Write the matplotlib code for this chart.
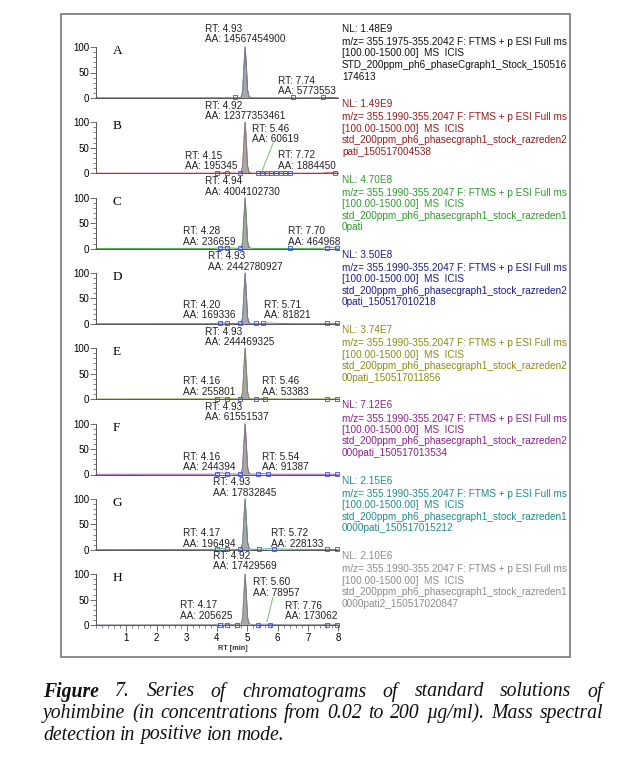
import numpy as np
import matplotlib
matplotlib.use("Agg")
import matplotlib.pyplot as plt
from matplotlib.patches import Rectangle
from matplotlib.ticker import MultipleLocator

W, H = 628, 763

# ---- data ----
panel_names = ["A", "B", "C", "D", "E", "F", "G", "H"]
nl_values = ["1.48E9", "1.49E9", "4.70E8", "3.50E8", "3.74E7", "7.12E6", "2.15E6", "2.10E6"]
mz_ranges = ["355.1975-355.2042"] + ["355.1990-355.2047"] * 7
file_line1 = ["STD_200ppm_ph6_phaseCgraph1_Stock_150516",
              "std_200ppm_ph6_phasecgraph1_stock_razreden2",
              "std_200ppm_ph6_phasecgraph1_stock_razreden1",
              "std_200ppm_ph6_phasecgraph1_stock_razreden2",
              "std_200ppm_ph6_phasecgraph1_stock_razreden2",
              "std_200ppm_ph6_phasecgraph1_stock_razreden2",
              "std_200ppm_ph6_phasecgraph1_stock_razreden1",
              "std_200ppm_ph6_phasecgraph1_stock_razreden1"]
file_line2 = ["174613", "pati_150517004538", "0pati", "0pati_150517010218",
              "00pati_150517011856", "000pati_150517013534",
              "0000pati_150517015212", "0000pati2_150517020847"]

main_rt = [4.93, 4.92, 4.94, 4.93, 4.93, 4.93, 4.93, 4.92]
main_area = ["14567454900", "12377353461", "4004102730", "2442780927",
             "244469325", "61551537", "17832845", "17429569"]

minor_peaks = [
    [(7.74, "5773553")],
    [(5.46, "60619"), (4.15, "195345"), (7.72, "1884450")],
    [(4.28, "236659"), (7.70, "464968")],
    [(4.20, "169336"), (5.71, "81821")],
    [(4.16, "255801"), (5.46, "53383")],
    [(4.16, "244394"), (5.54, "91387")],
    [(4.17, "196494"), (5.72, "228133")],
    [(5.60, "78957"), (4.17, "205625"), (7.76, "173062")],
]

# shared retention time grid (min) and relative abundance (%) per panel
rt_grid = [0.0, 3.9, 4.05, 4.17, 4.3, 4.7, 4.80, 4.85, 4.89, 4.93, 4.97, 5.01,
           5.06, 5.15, 5.35, 5.5, 5.6, 5.72, 6.4, 7.5, 7.62, 7.74, 7.9, 8.0]
int_a = [0.3, 0.3, 0.3, 0.3, 0.3, 0.3, 1.5, 12, 60, 100, 62, 15, 2, 0.4, 0.3, 0.3, 0.3, 0.3, 0.3, 0.4, 0.8, 1.0, 0.6, 0.4]
int_b = [0.3, 0.4, 1.5, 2.2, 1.0, 0.4, 2, 14, 62, 100, 60, 14, 2, 0.5, 0.4, 1.2, 0.9, 0.4, 0.3, 0.5, 1.6, 2.2, 1.0, 0.4]
int_c = [0.3, 0.4, 1.4, 2.0, 1.5, 0.5, 2, 13, 60, 100, 58, 14, 2, 0.5, 0.3, 0.3, 0.3, 0.3, 0.3, 0.6, 2.5, 3.2, 1.2, 0.5]
int_d = [0.3, 0.5, 1.6, 2.2, 1.2, 0.5, 2, 13, 58, 100, 57, 13, 2, 0.6, 0.4, 0.8, 1.2, 1.6, 0.4, 0.4, 0.5, 0.5, 0.4, 0.4]
int_e = [0.3, 0.6, 2.2, 3.0, 1.4, 0.6, 2, 14, 60, 100, 58, 14, 2, 0.6, 0.9, 1.6, 1.0, 0.5, 0.4, 0.4, 0.5, 0.5, 0.4, 0.4]
int_f = [0.3, 0.6, 2.4, 3.2, 1.4, 0.6, 2, 14, 60, 100, 58, 14, 2, 0.7, 1.0, 1.8, 1.4, 0.6, 0.4, 0.4, 0.5, 0.5, 0.4, 0.4]
int_g = [0.4, 0.8, 2.0, 2.6, 1.2, 0.6, 2, 14, 60, 100, 58, 15, 3, 0.8, 0.7, 1.2, 1.8, 2.2, 1.0, 0.6, 0.5, 0.5, 0.5, 0.5]
int_h = [0.4, 0.8, 2.2, 2.8, 1.3, 0.6, 2, 14, 60, 100, 58, 15, 3, 0.9, 0.8, 1.4, 1.9, 1.2, 0.6, 0.8, 1.5, 2.0, 1.0, 0.6]
intensities = [int_a, int_b, int_c, int_d, int_e, int_f, int_g, int_h]

# integration start/end markers on the baseline
marks = [
    [4.6, 6.5, 7.5],
    [4.0, 4.33, 4.76, 5.36, 5.5, 5.65, 5.8, 5.95, 6.1, 6.25, 6.4, 7.9],
    [4.1, 4.33, 4.76, 6.4, 7.64, 7.97],
    [4.1, 4.33, 4.76, 5.3, 5.52, 7.64, 7.97],
    [4.0, 4.33, 4.76, 5.3, 5.6, 7.64, 7.97],
    [4.0, 4.33, 4.76, 5.35, 5.7, 7.64, 7.97],
    [4.0, 4.33, 4.76, 5.4, 5.9, 7.64, 7.97],
    [4.1, 4.33, 4.66, 5.36, 5.75, 7.64, 7.97],
]

# ---- layout / style ----
text_colors = ["#111111", "#9b1b1b", "#2d9a2d", "#1c1c8a", "#8c8c14", "#8b1f8b", "#1f8c8c", "#8c8c8c"]
trace_colors = ["#4a5fe0", "#d46a6a", "#4aaa4a", "#6070dc", "#8aa040", "#a060b0", "#40a0a0", "#9090a0"]
main_label_pos = [(3.60, 125), (3.60, 122.5), (3.60, 121.6), (3.70, 122.5),
                  (3.60, 122.5), (3.60, 122.5), (3.87, 122.5), (3.87, 125.5)]
minor_label_pos = [
    [(6.02, 23.5)],
    [(5.16, 77.5), (2.94, 24.5), (6.02, 25)],
    [(2.88, 23.5), (6.35, 23.5)],
    [(2.88, 27.5), (5.55, 27.5)],
    [(2.88, 25), (5.49, 25)],
    [(2.88, 24.5), (5.49, 24.5)],
    [(2.88, 22.5), (5.80, 22.5)],
    [(5.19, 73.5), (2.78, 29), (6.25, 27.5)],
]
leaders = {1: [(5.50, 6), (5.85, 59)], 7: [(5.65, 6), (5.85, 55)]}

sans = "Liberation Sans"
serif = "Liberation Serif"

fig = plt.figure(figsize=(W / 100, H / 100), dpi=100)
fig.patch.set_facecolor("white")


def fx(px):
    return px / W


def fy(py):
    return 1 - py / H


fig.patches.append(Rectangle((fx(61), fy(657)), fx(570) - fx(61), fy(14) - fy(657),
                             transform=fig.transFigure, fill=False,
                             edgecolor="#8a8a8a", lw=1.4))

rt = np.array(rt_grid)
for i in range(8):
    y0 = 98 + i * 75.3
    ax = fig.add_axes([fx(96), fy(y0), 242 / W, 51 / H])
    ax.set_xlim(0, 8)
    ax.set_ylim(0, 100)
    ax.patch.set_alpha(0)
    for s in ["top", "right"]:
        ax.spines[s].set_visible(False)
    for s in ["left", "bottom"]:
        ax.spines[s].set_color("#555555")
        ax.spines[s].set_linewidth(0.7)

    y = np.array(intensities[i])
    peak = (rt >= 4.78) & (rt <= 5.10)
    ax.fill_between(rt, 0, y, where=peak, color="#a8a8a8", lw=0, zorder=2)
    ax.plot(rt[peak], y[peak], color="#808080", lw=0.7, zorder=3)
    ax.plot(rt, y, color=trace_colors[i], lw=0.7, zorder=2.5, clip_on=False)
    ax.plot(marks[i], np.zeros(len(marks[i])) + 1, "s", mfc="none", mec="#3a4ee6",
            ms=3.4, mew=0.6, clip_on=False, zorder=4)

    if i in leaders:
        (xa, ya), (xb, yb) = leaders[i]
        ax.plot([xa, xb], [ya, yb], color="#6cc46c", lw=0.7, clip_on=False)

    ax.set_yticks([0, 50, 100])
    ax.yaxis.set_minor_locator(MultipleLocator(10))
    ax.tick_params(axis="y", which="major", length=4, width=0.6, labelsize=7,
                   pad=1, color="#555555")
    ax.tick_params(axis="y", which="minor", length=2.5, width=0.5, color="#555555")
    for lab in ax.get_yticklabels():
        lab.set_fontfamily(sans)

    if i == 7:
        ax.set_xticks(range(1, 9))
        ax.xaxis.set_minor_locator(MultipleLocator(0.2))
        ax.tick_params(axis="x", which="major", length=4, width=0.6, labelsize=7,
                       pad=2, color="#555555")
        ax.tick_params(axis="x", which="minor", length=2.5, width=0.5, color="#555555")
        for lab in ax.get_xticklabels():
            lab.set_fontfamily(sans)
    else:
        ax.set_xticks([])

    ax.text(0.55, 92, panel_names[i], family=serif, fontsize=9.5, va="center",
            ha="left")

    lx, ly = main_label_pos[i]
    ax.text(lx, ly, "RT: %.2f\nAA: %s" % (main_rt[i], main_area[i]), family=sans,
            fontsize=7.2, linespacing=1.05, va="center", ha="left",
            color="#222222", clip_on=False)
    for (prt, parea), (mx, my) in zip(minor_peaks[i], minor_label_pos[i]):
        ax.text(mx, my, "RT: %.2f\nAA: %s" % (prt, parea), family=sans,
                fontsize=7.2, linespacing=1.05, va="center", ha="left",
                color="#222222", clip_on=False)

    # header block on the right
    lines = ["NL: " + nl_values[i],
             "m/z= %s F: FTMS + p ESI Full ms" % mz_ranges[i],
             "[100.00-1500.00]  MS  ICIS",
             file_line1[i], file_line2[i]]
    offsets = [69, 56, 44.5, 33, 21.5]
    for txt, off in zip(lines, offsets):
        fig.text(fx(342), fy(y0 - off), txt, family=sans, fontsize=7.2,
                 color=text_colors[i], va="center", ha="left")

fig.text(fx(233), fy(648), "RT [min]", family=sans, fontsize=5.2,
         fontweight="bold", color="#333333", ha="center", va="center")

# ---- caption (justified) ----
renderer = fig.canvas.get_renderer()
cap_size = 14.2


def put_line(words, py, justify):
    items = []
    for w, bold in words:
        t = fig.text(0, fy(py), w, family=serif, style="italic", fontsize=cap_size,
                     fontweight="bold" if bold else "normal", va="center",
                     ha="left", color="#111111")
        items.append(t)
    widths = [t.get_window_extent(renderer).width for t in items]
    left, right = 43, 603
    if justify and len(items) > 1:
        gap = (right - left - sum(widths)) / (len(items) - 1)
    else:
        gap = 4.8
    x = left
    for t, w in zip(items, widths):
        t.set_x(fx(x))
        x += w + gap


line1 = [("Figure", True), ("7.", False), ("Series", False), ("of", False),
         ("chromatograms", False), ("of", False), ("standard", False),
         ("solutions", False), ("of", False)]
line2 = [(w, False) for w in "yohimbine (in concentrations from 0.02 to 200 \u00b5g/ml). Mass spectral".split()]
line3 = [(w, False) for w in "detection in positive ion mode.".split()]
put_line(line1, 692, True)
put_line(line2, 713.5, True)
put_line(line3, 735, False)

fig.savefig("out.png", dpi=100)
